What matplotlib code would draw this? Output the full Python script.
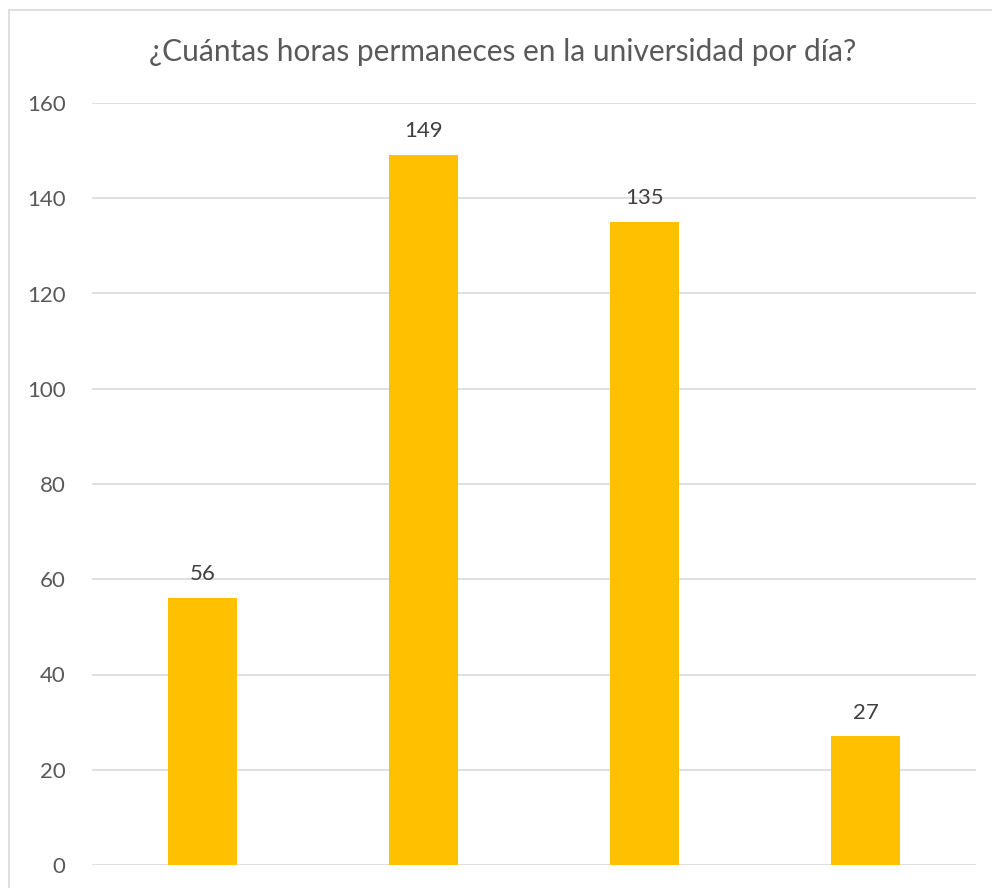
import matplotlib
matplotlib.use("Agg")
import matplotlib.pyplot as plt
from matplotlib.patches import Rectangle

# Survey responses: hours spent at the university per day
categories = ["A", "B", "C", "D"]
counts = [56, 149, 135, 27]
yticks = [0, 20, 40, 60, 80, 100, 120, 140, 160]
title = "¿Cuántas horas permaneces en la universidad por día?"

plt.rcParams["font.family"] = ["Lato", "DejaVu Sans"]

W, H = 992, 888
fig = plt.figure(figsize=(W / 100, H / 100), dpi=100)

# Outer chart frame
fig.patches.append(Rectangle((9 / W, -0.05), 1.2, (H - 10) / H + 0.05,
                             transform=fig.transFigure, fill=False,
                             edgecolor="#d9d9d9", linewidth=1.2))

ax = fig.add_axes([92 / W, 23 / H, (976 - 92) / W, (865 - 103) / H])
x = range(len(categories))
bars = ax.bar(x, counts, width=0.31, color="#ffc000", zorder=3)

ax.set_xlim(-0.5, len(categories) - 0.5)
ax.set_ylim(0, 160)
ax.set_yticks(yticks)
ax.set_yticklabels([str(t) for t in yticks])
ax.set_xticks([])
ax.tick_params(axis="y", length=0, pad=19, labelsize=16, labelcolor="#595959")
ax.grid(axis="y", color="#d9d9d9", linewidth=1.2, zorder=0)
for s in ax.spines.values():
    s.set_visible(False)

for b, v in zip(bars, counts):
    ax.annotate(str(v), (b.get_x() + b.get_width() / 2, v),
                xytext=(0, 10), textcoords="offset points",
                ha="center", va="bottom", fontsize=16, color="#404040")

fig.text(0.5 + 7 / W, (H - 52) / H, title, ha="center", va="center",
         fontsize=21.5, color="#595959")

fig.savefig("out.png", dpi=100)
